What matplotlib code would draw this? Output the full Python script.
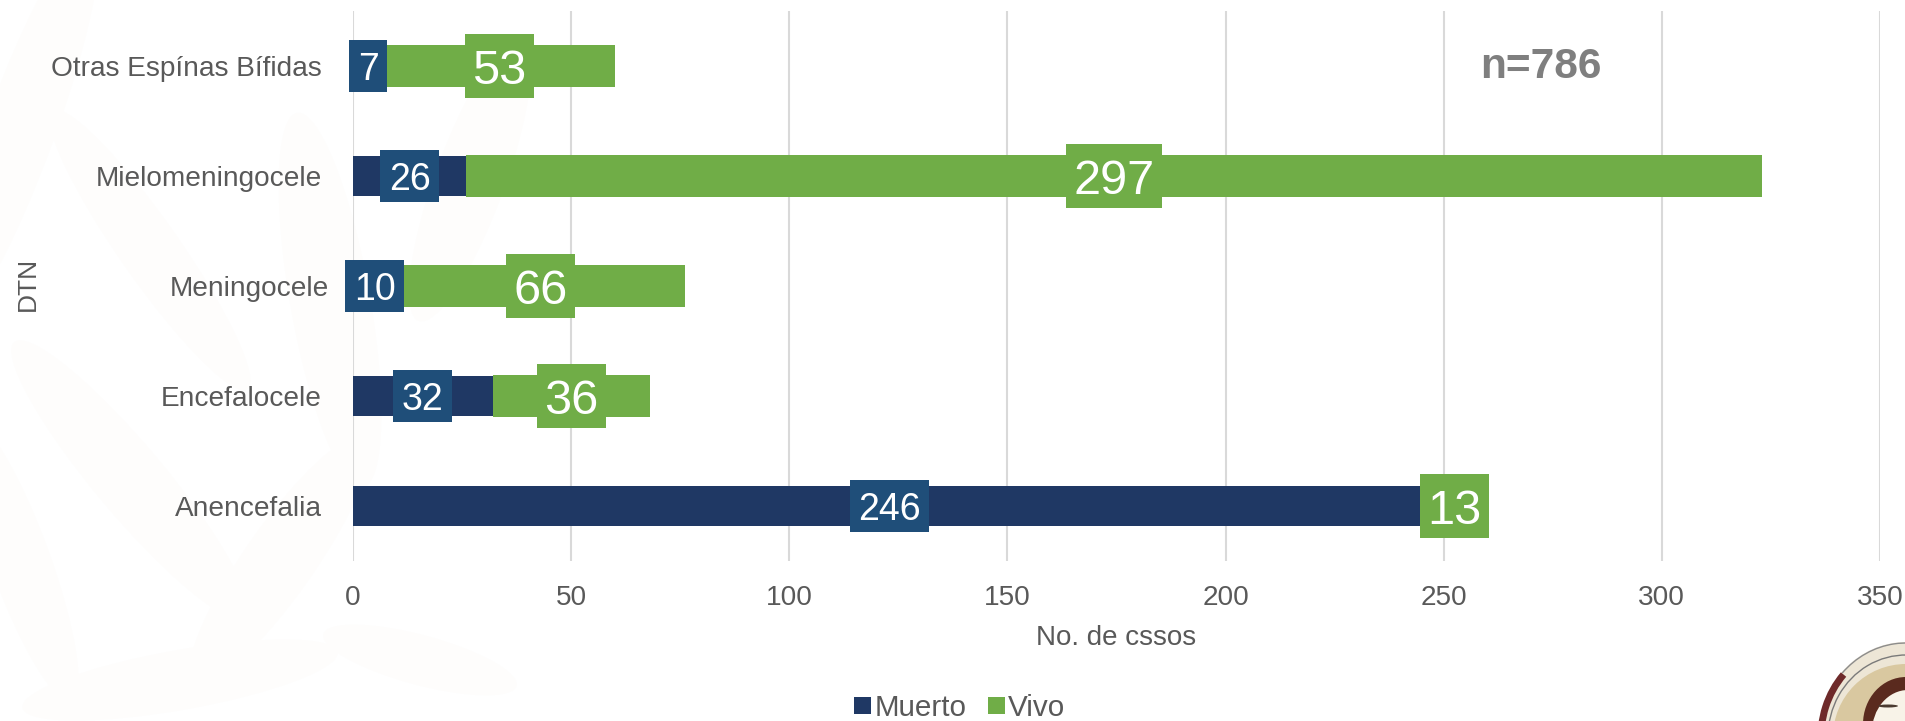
import matplotlib
matplotlib.use("Agg")
import matplotlib.pyplot as plt
from matplotlib.patches import Rectangle, Ellipse, Arc
from matplotlib.transforms import IdentityTransform

plt.rcParams['font.family'] = ['Liberation Sans', 'DejaVu Sans']

W, H = 1906, 721

categories = ["Anencefalia", "Encefalocele", "Meningocele", "Mielomeningocele", "Otras Espínas Bífidas"]
muerto = [246, 32, 10, 26, 7]
vivo = [13, 36, 66, 297, 53]
x_ticks = [0, 50, 100, 150, 200, 250, 300, 350]

DARK = "#1F3864"
LABEL_DARK = "#1F4E79"
GREEN = "#70AD47"
TEXT = "#595959"
GRID = "#D9D9D9"
TINT = "#FEFDFC"

fig = plt.figure(figsize=(W / 100, H / 100), dpi=100)

# helper for the decoration, given in image pixels (y down)
def deco_ellipse(cx, cy, w, h, color, angle=0, z=0):
    fig.add_artist(Ellipse((cx, H - cy), w, h, angle=angle, color=color, lw=0,
                           transform=IdentityTransform(), zorder=z))

# faint watermark on the left
for cx, cy, w, h, a in [(20, 130, 70, 420, -20), (150, 250, 60, 340, 35), (330, 300, 80, 380, 10),
                        (130, 480, 70, 360, 40), (20, 560, 60, 300, 20), (280, 560, 70, 300, -35),
                        (180, 680, 320, 60, 10), (470, 180, 70, 300, -20), (420, 660, 200, 50, -15)]:
    deco_ellipse(cx, cy, w, h, TINT, angle=a, z=-2)

ax = fig.add_axes([353 / W, 1 - 561 / H, (1880 - 353) / W, 550 / H])
ax.patch.set_alpha(0)

ypos = list(range(len(categories)))
ax.barh(ypos, muerto, height=0.36, color=DARK, label="Muerto", zorder=2)
ax.barh(ypos, vivo, left=muerto, height=0.375, color=GREEN, label="Vivo", zorder=2)

ax.set_xlim(0, 350)
ax.set_ylim(-0.5, 4.5)
ax.set_xticks(x_ticks)
ax.set_yticks(ypos)
ax.set_yticklabels(categories)
ax.tick_params(axis="both", length=0, labelsize=20.2, labelcolor=TEXT)
ax.tick_params(axis="x", pad=17)
ax.tick_params(axis="y", pad=22.5)
ax.yaxis.get_major_ticks()[2].set_pad(17)
ax.grid(axis="x", color=GRID, linewidth=1.5, zorder=0)
for s in ax.spines.values():
    s.set_visible(False)

fig.canvas.draw()
unit = ax.transData.transform((1, 0))[0] - ax.transData.transform((0, 0))[0]

# data labels sit on boxes wider than the bars
def boxed_label(x, y, value, color, size, box_h, pad):
    t = ax.text(x, y, str(value), color="white", fontsize=size, ha="center", va="center_baseline", zorder=5)
    ext = t.get_window_extent(fig.canvas.get_renderer())
    w = (ext.width + pad) / unit
    ax.add_patch(Rectangle((x - w / 2, y - box_h / 2), w, box_h, color=color, lw=0, zorder=4, clip_on=False))

for i in ypos:
    boxed_label(muerto[i] / 2, i, muerto[i], LABEL_DARK, 27, 0.465, 17)
    boxed_label(muerto[i] + vivo[i] / 2, i, vivo[i], GREEN, 35, 0.58, 15)

fig.text(1116 / W, 1 - 638 / H, "No. de cssos", color=TEXT, fontsize=20, ha="center", va="center")
fig.text(28 / W, 1 - 284 / H, "DTN", color=TEXT, fontsize=19, rotation=90, ha="center", va="center")
fig.text(1541 / W, 1 - 67 / H, "n=786", color="#7F7F7F", fontsize=30.5, fontweight="bold", ha="center", va="center")

fig.legend(loc="center", bbox_to_anchor=(960 / W, 1 - 708 / H), ncol=2, frameon=False, fontsize=21.3,
           labelcolor=TEXT, handlelength=0.55, handleheight=0.55, handletextpad=0.12, columnspacing=0.75,
           borderpad=0, borderaxespad=0)

# portrait logo, bottom right corner
deco_ellipse(1906, 737, 176, 190, "#EDE6D6", z=3)
fig.add_artist(Arc((1906, H - 737), 170, 184, theta1=135, theta2=185, color="#6E2A2A", lw=5,
                   transform=IdentityTransform(), zorder=4))
fig.add_artist(Arc((1906, H - 737), 174, 188, theta1=60, theta2=135, color="#8C8C8C", lw=1,
                   transform=IdentityTransform(), zorder=4))
fig.add_artist(Arc((1906, H - 737), 156, 164, theta1=60, theta2=180, color="#7A7A7A", lw=1,
                   transform=IdentityTransform(), zorder=4))
deco_ellipse(1906, 737, 146, 146, "#D9C8A0", z=5)
deco_ellipse(1906, 724, 86, 94, "#5A2A1E", z=6)
deco_ellipse(1908, 732, 72, 84, "#F8F3E8", z=7)
deco_ellipse(1888, 706, 20, 3, "#4A3A30", z=8)

fig.savefig("out.png", dpi=100)
